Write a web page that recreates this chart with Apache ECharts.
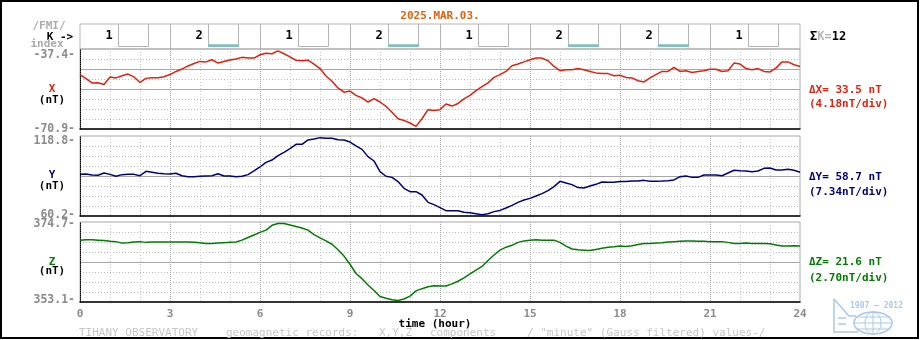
<!DOCTYPE html>
<html>
<head>
<meta charset="utf-8">
<script src="https://cdn.jsdelivr.net/npm/echarts@6/dist/echarts.min.js"></script>
<style>
html,body{margin:0;padding:0;background:#fff}
#chart{width:920px;height:340px}
</style>
</head>
<body>
<div id="chart"></div>
<script>
// ---- day record: Tihany geomagnetic observatory, X / Y / Z components ----
const dayLabel = '2025.MAR.03.';

// 3-hourly K-index
const kStartHours = [0, 3, 6, 9, 12, 15, 18, 21];
const kIndex = [1, 2, 1, 2, 1, 2, 2, 1];
const kSumText = '12';

// x-axis ticks (hours)
const hourTicks = [0, 3, 6, 9, 12, 15, 18, 21, 24];

// samples every 0.2 h starting at 00:00
const sampleStepHours = 0.2;

// displayed ranges (nT), range widths and scale per division
const xRange = [-70.9, -37.4];
const yRange = [60.2, 118.8];
const zRange = [353.1, 374.7];
const xDelta = '33.5';
const yDelta = '58.7';
const zDelta = '21.6';
const xPerDiv = '4.18';
const yPerDiv = '7.34';
const zPerDiv = '2.70';

const xValues = [
  -48.1, -49.8, -51.6, -51.5, -52.3, -49.1, -49.5, -48.6, -47.9, -49.1,
  -51.4, -49.7, -49.4, -49.4, -49.0, -48.1, -46.8, -45.8, -44.5, -43.5,
  -42.6, -42.8, -41.9, -43.3, -42.6, -42.0, -41.6, -40.9, -41.2, -41.2,
  -39.8, -39.2, -39.4, -38.2, -39.4, -40.7, -42.1, -42.3, -42.1, -43.7,
  -45.6, -48.7, -50.9, -53.7, -55.5, -55.0, -56.8, -57.9, -59.6, -58.2,
  -59.6, -61.4, -63.9, -66.6, -67.3, -68.4, -69.8, -66.6, -62.8, -63.2,
  -62.8, -60.4, -61.3, -60.2, -58.3, -56.8, -54.8, -53.2, -51.6, -49.3,
  -48.1, -46.8, -44.4, -43.7, -42.8, -41.9, -41.2, -41.2, -42.3, -44.7,
  -46.5, -46.1, -46.1, -45.6, -46.1, -46.8, -47.4, -47.7, -47.7, -48.6,
  -48.4, -49.3, -49.5, -50.7, -51.2, -49.5, -48.1, -46.8, -46.8, -45.1,
  -46.8, -46.5, -47.2, -46.8, -46.5, -45.9, -45.9, -46.8, -46.5, -43.3,
  -43.7, -45.6, -46.1, -45.6, -46.8, -47.0, -45.4, -42.8, -42.8, -44.0,
  -44.7
];

const yValues = [
  90.7, 91.0, 90.2, 90.0, 91.7, 90.7, 89.3, 90.5, 90.7, 90.7,
  89.7, 92.9, 92.2, 91.5, 91.2, 91.0, 91.5, 89.7, 89.0, 89.0,
  89.3, 89.5, 89.7, 91.2, 89.5, 89.5, 89.0, 89.3, 90.5, 93.2,
  96.1, 99.5, 101.2, 104.4, 106.8, 109.5, 112.7, 112.7, 115.9, 116.6,
  117.6, 117.1, 117.1, 116.1, 115.9, 114.4, 111.5, 109.0, 103.7, 100.5,
  92.7, 89.3, 88.5, 85.4, 80.5, 78.0, 78.0, 75.6, 70.2, 68.5,
  66.3, 64.1, 64.1, 64.1, 62.9, 62.6, 61.9, 61.2, 61.9, 63.4,
  64.3, 66.1, 68.0, 70.2, 71.9, 73.1, 74.8, 76.6, 78.8, 81.7,
  85.6, 84.4, 83.2, 81.0, 80.7, 82.2, 83.4, 85.1, 84.9, 84.9,
  85.4, 85.4, 85.8, 85.8, 86.3, 85.6, 85.6, 85.8, 86.1, 86.6,
  89.0, 89.5, 88.5, 88.5, 90.2, 90.2, 90.2, 89.7, 91.7, 93.7,
  93.4, 93.2, 92.7, 93.2, 95.1, 95.4, 93.9, 93.9, 94.4, 93.7,
  92.2
];

const zValues = [
  369.8, 369.9, 369.9, 369.8, 369.7, 369.5, 369.4, 369.0, 369.1, 369.3,
  369.4, 369.2, 369.3, 369.3, 369.3, 369.3, 369.3, 369.3, 369.3, 369.2,
  369.1, 368.9, 368.9, 369.0, 369.1, 369.2, 369.3, 369.8, 370.5, 371.2,
  371.9, 372.5, 373.8, 374.3, 374.3, 373.9, 373.5, 373.1, 372.5, 371.3,
  370.4, 369.6, 368.7, 367.2, 365.5, 363.3, 360.8, 359.4, 357.7, 356.2,
  354.6, 354.1, 353.7, 353.5, 353.9, 354.7, 356.1, 356.7, 357.2, 357.5,
  357.4, 357.4, 358.0, 358.7, 359.6, 360.7, 361.7, 362.7, 364.3, 365.8,
  367.1, 367.9, 368.4, 369.2, 369.6, 369.8, 369.9, 369.8, 369.8, 369.8,
  369.2, 368.2, 367.4, 367.2, 367.1, 367.0, 367.3, 367.6, 367.9, 368.0,
  368.2, 368.1, 368.3, 368.6, 368.9, 368.9, 369.0, 369.1, 369.3, 369.4,
  369.5, 369.6, 369.6, 369.5, 369.5, 369.4, 369.4, 369.4, 369.2, 368.9,
  368.9, 369.0, 368.9, 368.9, 368.9, 368.8, 368.5, 368.2, 368.2, 368.3,
  368.2
];

// ---- styling ----
const MONO = '"DejaVu Sans Mono", monospace';
const FONT = 'bold 11px ' + MONO;
const PLOT_LEFT = 80, PLOT_WIDTH = 720, PANEL_H = 80;
const DIVS = 8;
const GRID_SOLID = '#a8a8a8';
const GRID_DOT = '#b8b8b8';

const panels = [
  { name: 'X', color: '#e4200c', range: xRange, values: xValues, delta: xDelta, perDiv: xPerDiv, top: 49,  solid: [4, 6], padTop: 12, padBottom: 0,
    nameY: 89, unitY: 100, deltaY: 90, divY: 104 },
  { name: 'Y', color: '#00007c', range: yRange, values: yValues, delta: yDelta, perDiv: yPerDiv, top: 136, solid: [4], padTop: 10, padBottom: 2,
    nameY: 175, unitY: 186, deltaY: 177, divY: 192 },
  { name: 'Z', color: '#007c00', range: zRange, values: zValues, delta: zDelta, perDiv: zPerDiv, top: 222, solid: [4], padTop: 4, padBottom: 4,
    nameY: 262, unitY: 271, deltaY: 262, divY: 278 }
];

function renderKCell(params, api) {
  const start = api.value(0);
  const k = api.value(1);
  const cs = params.coordSys;
  const top = cs.y;
  const bottom = cs.y + cs.height - 2.5;
  const xNum = api.coord([start + 0.97, 0])[0];
  const bx0 = Math.round(api.coord([start + 1.25, 0])[0]) + 0.5;
  const bx1 = Math.round(api.coord([start + 2.27, 0])[0]) + 0.5;
  const barH = api.size([0, k - 1])[1];
  const children = [
    { type: 'polyline', shape: { points: [[bx0, top], [bx0, bottom], [bx1, bottom], [bx1, top]] },
      style: { stroke: '#b4b4b4', fill: null, lineWidth: 1 } },
    { type: 'text', style: { text: String(k), x: xNum, y: top + 11.5, align: 'center', verticalAlign: 'middle',
      font: 'bold 12px ' + MONO, fill: '#000' } }
  ];
  if (barH > 0) {
    children.push({ type: 'rect', shape: { x: bx0 - 0.5, y: bottom - barH + 0.5, width: bx1 - bx0 + 1, height: barH },
      style: { fill: '#80c0c0' } });
  }
  return { type: 'group', children };
}

const grids = [{ left: PLOT_LEFT, top: 24, width: PLOT_WIDTH, height: 25, show: true, borderColor: '#b4b4b4', borderWidth: 1, outerBoundsMode: 'none' }];
const xAxes = [{
  type: 'value', gridIndex: 0, min: 0, max: 24, interval: 3,
  axisLine: { show: false }, axisTick: { show: false }, axisLabel: { show: false },
  splitLine: { show: true, showMinLine: false, showMaxLine: false, lineStyle: { color: '#b4b4b4', width: 1 } }
}];
const yAxes = [{ type: 'value', gridIndex: 0, min: 0, max: 9, show: false }];
const series = [{
  type: 'custom', xAxisIndex: 0, yAxisIndex: 0, silent: true,
  data: kStartHours.map((h, i) => [h, kIndex[i]]),
  renderItem: renderKCell
}];

panels.forEach((p, i) => {
  const g = i + 1;
  grids.push({ left: PLOT_LEFT, top: p.top, width: PLOT_WIDTH, height: PANEL_H, show: true,
    borderColor: GRID_SOLID, borderWidth: 1, outerBoundsMode: 'none' });

  xAxes.push({
    type: 'value', gridIndex: g, min: hourTicks[0], max: hourTicks[hourTicks.length - 1], interval: 3,
    axisLine: { show: true, onZero: false, lineStyle: { color: '#000', width: 1.5 } },
    axisTick: { show: false },
    axisLabel: { show: i === panels.length - 1, color: '#8a8a8a', fontFamily: MONO, fontWeight: 'bold', fontSize: 11, margin: 7 },
    splitLine: { show: true, showMinLine: false, showMaxLine: false, lineStyle: { color: '#a2a2a2', type: [1, 1], width: 1 } },
    minorTick: { show: false, splitNumber: 3 },
    minorSplitLine: { show: true, lineStyle: { color: '#cacaca', type: [1, 2], width: 1 } }
  });

  const topText = p.range[1].toFixed(1) + '-';
  const botText = p.range[0].toFixed(1) + '-';
  const labelStyle = { color: '#8a8a8a', fontFamily: MONO, fontWeight: 'bold', fontSize: 11.5 };
  // division axis: dotted division lines + range labels
  yAxes.push({
    type: 'value', gridIndex: g, min: 0, max: DIVS, interval: 1, position: 'left',
    axisLine: { show: true, lineStyle: { color: '#000', type: [1, 1], width: 1 } },
    axisTick: { show: false },
    axisLabel: Object.assign({
      margin: 5,
      formatter: v => v === DIVS ? '{t|' + topText + '}' : (v === 0 ? '{b|' + botText + '}' : ''),
      rich: {
        t: Object.assign({ padding: [p.padTop, 0, 0, 0] }, labelStyle),
        b: Object.assign({ padding: [0, 0, p.padBottom, 0] }, labelStyle)
      }
    }, labelStyle),
    splitLine: { show: true, showMinLine: false, showMaxLine: false, lineStyle: { color: GRID_DOT, type: [1, 2], width: 1 } }
  });
  // solid reference lines at selected divisions
  const solidColors = [];
  for (let d = 0; d <= DIVS; d++) solidColors.push(p.solid.includes(d) ? GRID_SOLID : 'rgba(0,0,0,0)');
  yAxes.push({
    type: 'value', gridIndex: g, min: 0, max: DIVS, interval: 1, position: 'left',
    axisLine: { show: false }, axisTick: { show: false }, axisLabel: { show: false },
    splitLine: { show: true, lineStyle: { color: solidColors, type: 'solid', width: 1 } }
  });
  // data axis in nT
  yAxes.push({ type: 'value', gridIndex: g, min: p.range[0], max: p.range[1], show: false });

  series.push({
    type: 'line', name: p.name, xAxisIndex: g, yAxisIndex: yAxes.length - 1,
    data: p.values.map((v, j) => [+(j * sampleStepHours).toFixed(2), v]),
    symbol: 'none', showSymbol: false, z: 5,
    lineStyle: { color: p.color, width: 1.5 }
  });
});

// ---- texts and frame ----
const txt = (text, x, y, fill, opts) => Object.assign({
  type: 'text', x, y, silent: true,
  style: Object.assign({ text, fill, font: FONT, align: 'center', verticalAlign: 'middle' }, (opts || {}))
});
const FOOT = { align: 'left', font: '11px ' + MONO };

const graphics = [
  { type: 'rect', shape: { x: 1, y: 1, width: 917, height: 337 }, style: { fill: 'none', stroke: '#000', lineWidth: 2 }, silent: true },
  txt(dayLabel, 440, 16, '#e0600c'),
  txt('/FMI/', 49, 26, '#ababab'),
  txt('K ->', 60, 37, '#000'),
  txt('index', 47, 44, '#ababab'),
  {
    type: 'text', x: 810, y: 37, silent: true,
    style: {
      text: '{a|Σ}{b|K=}{a|' + kSumText + '}', verticalAlign: 'middle', align: 'left',
      rich: {
        a: { fill: '#000', font: 'bold 12px ' + MONO },
        b: { fill: '#b4b4b4', font: 'bold 12px ' + MONO }
      }
    }
  },
  txt('time (hour)', 435, 324, '#000'),
  txt('TIHANY OBSERVATORY', 79, 333, '#c6c6c6', FOOT),
  txt('geomagnetic records:', 226, 333, '#c6c6c6', FOOT),
  txt('X,Y,Z', 379, 333, '#c6c6c6', FOOT),
  txt('components', 430, 333, '#c6c6c6', FOOT),
  txt('/ "minute" (Gauss filtered) values-/', 527, 333, '#c6c6c6', FOOT)
];

panels.forEach(p => {
  graphics.push(
    txt(p.name, 52, p.nameY, p.color),
    txt('(nT)', 52, p.unitY, '#000'),
    txt('Δ' + p.name + '= ' + p.delta + ' nT', 809, p.deltaY, p.color, { align: 'left' }),
    txt('(' + p.perDiv + 'nT/div)', 809, p.divY, p.color, { align: 'left' })
  );
});

// observatory emblem, bottom right
const LOGO = '#a9c8ea';
graphics.push({
  type: 'group', silent: true,
  children: [
    { type: 'polyline', shape: { points: [[834, 299], [834, 332], [858, 332]] }, style: { stroke: LOGO, lineWidth: 1.5, fill: null } },
    { type: 'polyline', shape: { points: [[834, 299], [849, 316], [856, 316]] }, style: { stroke: LOGO, lineWidth: 1.5, fill: null } },
    { type: 'line', shape: { x1: 838, y1: 318, x2: 846, y2: 318 }, style: { stroke: LOGO, lineWidth: 1.5 } },
    { type: 'line', shape: { x1: 838, y1: 324, x2: 846, y2: 324 }, style: { stroke: LOGO, lineWidth: 1.5 } },
    { type: 'ellipse', shape: { cx: 873, cy: 323, rx: 19, ry: 11 }, style: { stroke: LOGO, lineWidth: 1.5, fill: null } },
    { type: 'ellipse', shape: { cx: 873, cy: 323, rx: 8, ry: 11 }, style: { stroke: LOGO, lineWidth: 1, fill: null } },
    { type: 'line', shape: { x1: 854, y1: 323, x2: 892, y2: 323 }, style: { stroke: LOGO, lineWidth: 1 } },
    { type: 'line', shape: { x1: 857, y1: 317, x2: 889, y2: 317 }, style: { stroke: LOGO, lineWidth: 1 } },
    { type: 'line', shape: { x1: 857, y1: 329, x2: 889, y2: 329 }, style: { stroke: LOGO, lineWidth: 1 } },
    { type: 'line', shape: { x1: 873, y1: 312, x2: 873, y2: 334 }, style: { stroke: LOGO, lineWidth: 1 } },
    { type: 'text', x: 850, y: 306, style: { text: '1907 — 2012', fill: LOGO, font: 'bold 8px ' + MONO, align: 'left', verticalAlign: 'middle' } }
  ]
});

const chart = echarts.init(document.getElementById('chart'), null, { renderer: 'canvas' });
chart.setOption({
  animation: false,
  backgroundColor: '#fff',
  grid: grids,
  xAxis: xAxes,
  yAxis: yAxes,
  series: series,
  graphic: graphics
});
</script>
</body>
</html>
